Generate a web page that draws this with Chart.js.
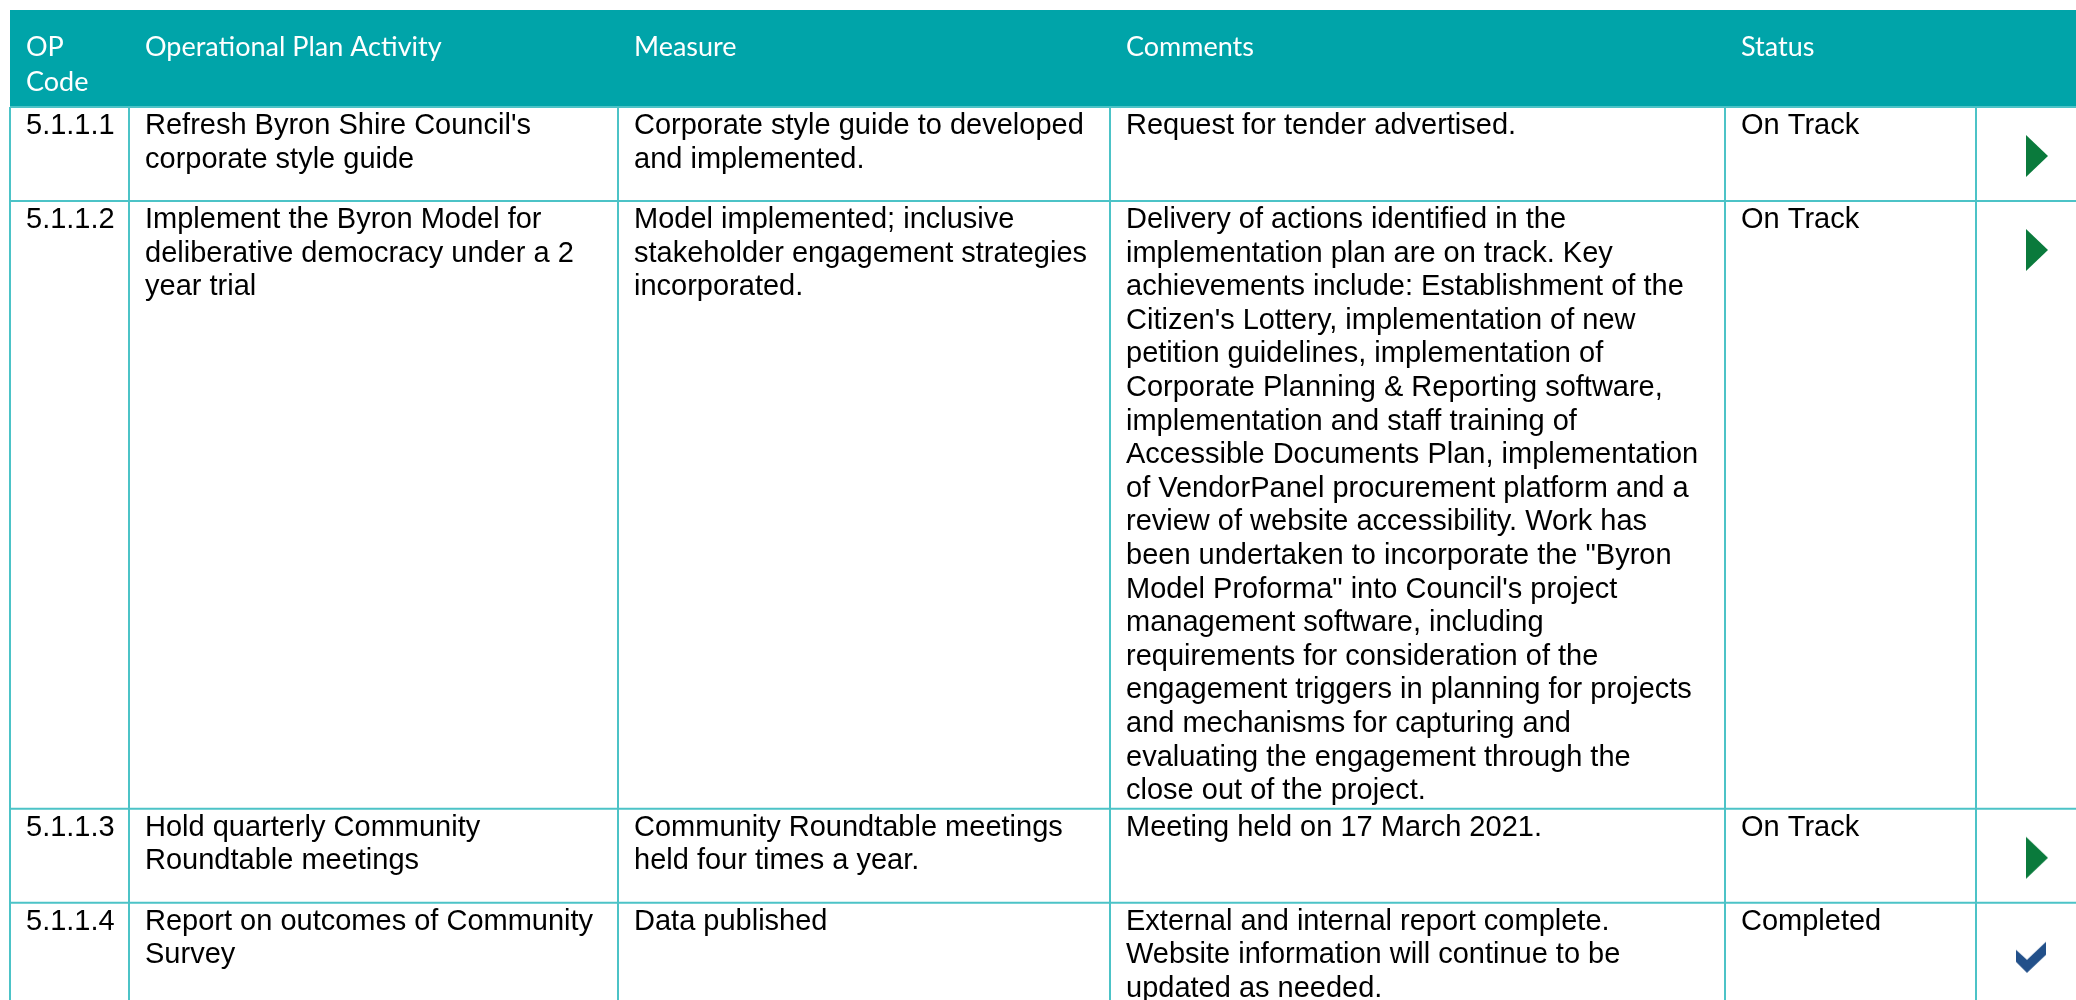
<!DOCTYPE html>
<html>
<head>
<meta charset="utf-8">
<title>Operational Plan Activities</title>
<script src="https://cdn.jsdelivr.net/npm/chart.js@4/dist/chart.umd.min.js"></script>
<style>
  html, body { margin: 0; padding: 0; background: #ffffff; overflow: hidden; }
  #wrap { width: 2076px; height: 1000px; }
</style>
</head>
<body>
<div id="wrap"><canvas id="opTable" width="2076" height="1000"></canvas></div>
<script>
// table content
const headers = [["OP", "Code"], ["Operational Plan Activity"], ["Measure"], ["Comments"], ["Status"], [""]];
const opCodes = ["5.1.1.1", "5.1.1.2", "5.1.1.3", "5.1.1.4"];
const activities = [
  ["Refresh Byron Shire Council's", "corporate style guide"],
  ["Implement the Byron Model for", "deliberative democracy under a 2", "year trial"],
  ["Hold quarterly Community", "Roundtable meetings"],
  ["Report on outcomes of Community", "Survey"],
];
const measures = [
  ["Corporate style guide to developed", "and implemented."],
  ["Model implemented; inclusive", "stakeholder engagement strategies", "incorporated."],
  ["Community Roundtable meetings", "held four times a year."],
  ["Data published"],
];
const comments = [
  ["Request for tender advertised."],
  [
    "Delivery of actions identified in the",
    "implementation plan are on track. Key",
    "achievements include: Establishment of the",
    "Citizen's Lottery, implementation of new",
    "petition guidelines, implementation of",
    "Corporate Planning & Reporting software,",
    "implementation and staff training of",
    "Accessible Documents Plan, implementation",
    "of VendorPanel procurement platform and a",
    "review of website accessibility. Work has",
    "been undertaken to incorporate the \"Byron",
    "Model Proforma\" into Council's project",
    "management software, including",
    "requirements for consideration of the",
    "engagement triggers in planning for projects",
    "and mechanisms for capturing and",
    "evaluating the engagement through the",
    "close out of the project.",
  ],
  ["Meeting held on 17 March 2021."],
  ["External and internal report complete.", "Website information will continue to be", "updated as needed."],
];
const statuses = ["On Track", "On Track", "On Track", "Completed"];

// layout (pixels in table units)
const colEdges = [10, 129, 618, 1110, 1725, 1976, 2100];
const headerTop = 10;
const headerBottom = 107;
const lineH = 33.6;
const headLineH = 35;
const minRowH = 94;
const padX = 16;
const gridColor = "#4cc3c7";
const headColor = "#00a4a9";
const bodyFont = "29px 'Liberation Sans', Arial, sans-serif";
const headFont = "27px Lato, 'Open Sans', sans-serif";

const rowCols = opCodes.map((c, i) => [[c], activities[i], measures[i], comments[i], [statuses[i]]]);
const rowTops = [];
let yCursor = headerBottom;
rowCols.forEach(cols => {
  const n = Math.max(...cols.map(c => c.length));
  rowTops.push(yCursor);
  yCursor += Math.max(minRowH, n * lineH + 3);
});

// status marker glyphs
function makeTriangle() {
  const c = document.createElement("canvas");
  c.width = 24; c.height = 44;
  const g = c.getContext("2d");
  g.fillStyle = "#0a7a3c";
  g.beginPath();
  g.moveTo(1, 1); g.lineTo(23, 22); g.lineTo(1, 43); g.closePath();
  g.fill();
  return c;
}
function makeCheck() {
  const c = document.createElement("canvas");
  c.width = 34; c.height = 34;
  const g = c.getContext("2d");
  g.fillStyle = "#22508a";
  g.beginPath();
  g.moveTo(1, 9); g.lineTo(12, 19); g.lineTo(31, 1); g.lineTo(31, 14);
  g.lineTo(12, 32); g.lineTo(1, 21); g.closePath();
  g.fill();
  return c;
}
const statusStyle = {
  "On Track": { img: makeTriangle(), dx: 61, dy: 49 },
  "Completed": { img: makeCheck(), dx: 56, dy: 55 },
};
const markerPoints = statuses.map((s, i) => ({ x: colEdges[5] + statusStyle[s].dx, y: rowTops[i] + statusStyle[s].dy }));
const markerImgs = statuses.map(s => statusStyle[s].img);

const tablePlugin = {
  id: "tableGrid",
  beforeDatasetsDraw(chart) {
    const { ctx, scales: { x, y } } = chart;
    const px = v => x.getPixelForValue(v);
    const py = v => y.getPixelForValue(v);
    ctx.save();
    // header band
    ctx.fillStyle = headColor;
    ctx.fillRect(px(colEdges[0]), py(headerTop), px(colEdges[6]) - px(colEdges[0]), py(headerBottom) - py(headerTop));
    ctx.fillStyle = "#ffffff";
    ctx.font = headFont;
    ctx.textBaseline = "middle";
    headers.forEach((lines, ci) => {
      lines.forEach((t, li) => ctx.fillText(t, px(colEdges[ci] + padX), py(headerTop + 37 + li * headLineH)));
    });
    // grid
    const bottom = yCursor;
    ctx.strokeStyle = gridColor;
    ctx.lineWidth = 2;
    ctx.beginPath();
    for (let ci = 0; ci < 6; ci++) {
      ctx.moveTo(px(colEdges[ci]), py(headerBottom));
      ctx.lineTo(px(colEdges[ci]), py(bottom));
    }
    rowTops.forEach(t => {
      ctx.moveTo(px(colEdges[0]), py(t));
      ctx.lineTo(px(colEdges[6]), py(t));
    });
    ctx.stroke();
    // body text
    ctx.fillStyle = "#000000";
    ctx.font = bodyFont;
    rowCols.forEach((cols, ri) => {
      cols.forEach((lines, ci) => {
        lines.forEach((t, li) => ctx.fillText(t, px(colEdges[ci] + padX), py(rowTops[ri] + 19 + li * lineH)));
      });
    });
    ctx.restore();
  }
};

new Chart(document.getElementById("opTable"), {
  type: "scatter",
  data: {
    datasets: [{
      data: markerPoints,
      pointStyle: markerImgs,
      pointRadius: 10,
      clip: false,
    }]
  },
  options: {
    responsive: false,
    animation: false,
    events: [],
    layout: { padding: 0, autoPadding: false },
    plugins: { legend: { display: false }, tooltip: { enabled: false } },
    scales: {
      x: { type: "linear", min: 0, max: 2076, display: false },
      y: { type: "linear", min: 0, max: 1000, reverse: true, display: false },
    }
  },
  plugins: [tablePlugin]
});
</script>
</body>
</html>
